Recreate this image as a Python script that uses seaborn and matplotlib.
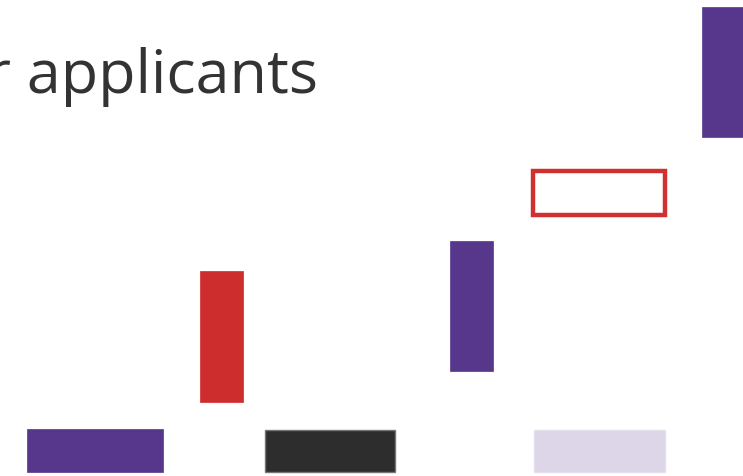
import matplotlib
matplotlib.use("Agg")
import matplotlib.pyplot as plt
import seaborn as sns

sns.set_theme(style="white")
plt.rcParams['font.family'] = ['Open Sans', 'DejaVu Sans']

# Shapes on the slide fragment (pixel units of the 743x476 canvas)
shape_names = ["top_right", "outline", "mid_purple", "red_bar", "legend_purple", "legend_black", "legend_lavender"]
left = [702, 533, 450, 200, 27, 265, 534]
top = [7, 171, 241, 271, 429, 430, 430]
width = [45, 132, 43, 43, 136, 130, 131]
height = [130, 44, 130, 131, 43, 42, 42]
fills = ["#56378b", "none", "#56378b", "#ce2d2e", "#56378b", "#2d2d2d", "#ddd6e8"]
edges = ["#56378b", "#d0302f", "#56378b", "#ce2d2e", "#56378b", "#777777", "#e6e0ee"]
lws = [0.5, 3.2, 0.5, 0.5, 0.5, 1.0, 1.0]
title_text = "r applicants"

fig = plt.figure(figsize=(7.43, 4.76), dpi=100)
ax = fig.add_axes([0, 0, 1, 1])
ax.set_xlim(0, 743)
ax.set_ylim(476, 0)
ax.axis("off")

for l, t, w, h, f, e, lw in zip(left, top, width, height, fills, edges, lws):
    ax.bar(l, h, width=w, bottom=t, align="edge", color=f, edgecolor=e, linewidth=lw)

ax.text(318, 93, title_text, ha="right", va="baseline", fontsize=44, color="#333333")

fig.savefig("out.png", dpi=100)
